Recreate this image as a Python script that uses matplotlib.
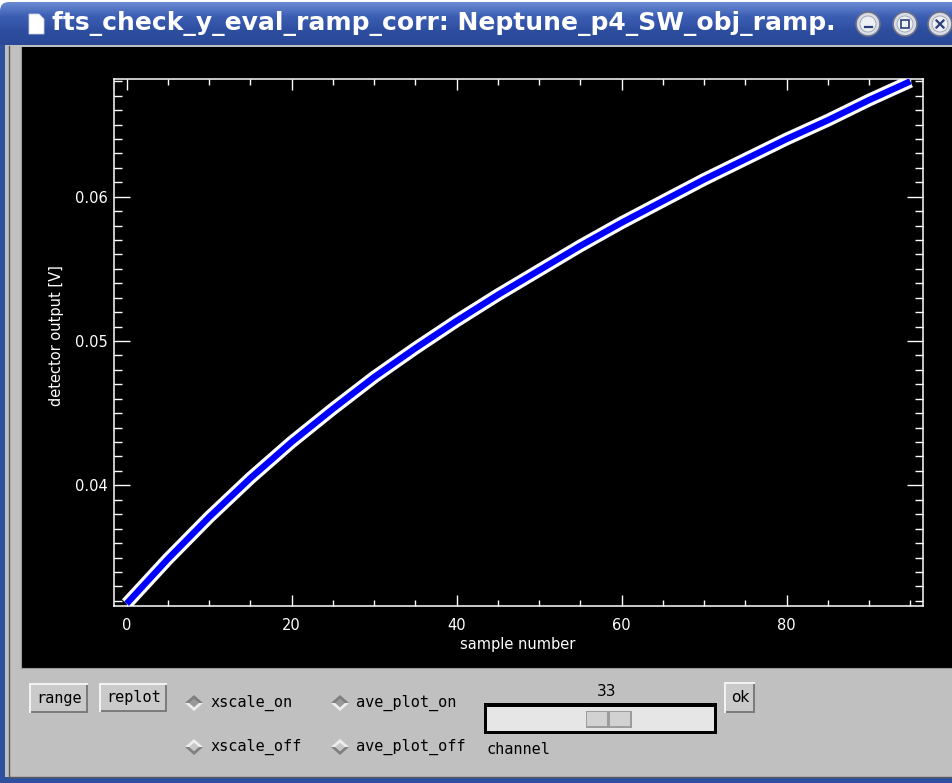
import matplotlib.pyplot as plt
import numpy as np
from matplotlib.patches import Rectangle, Polygon, Circle, FancyBboxPatch
from matplotlib.ticker import MultipleLocator, FixedLocator

W, H = 952, 783

# ramp readouts (every 5th sample) and detector output in volts
sample_number = [0, 5, 10, 15, 20, 25, 30, 35, 40, 45,
                 50, 55, 60, 65, 70, 75, 80, 85, 90, 95]
detector_output = [0.0318, 0.0349, 0.0378, 0.0405, 0.0430, 0.0453, 0.0475,
                   0.0495, 0.0514, 0.0532, 0.0549, 0.0566, 0.0582, 0.0597,
                   0.0612, 0.0626, 0.0640, 0.0653, 0.0667, 0.0680]

x_ticks = [0, 20, 40, 60, 80]
y_ticks = [0.04, 0.05, 0.06]
y_tick_labels = ['0.04', '0.05', '0.06']

window_title = 'fts_check_y_eval_ramp_corr: Neptune_p4_SW_obj_ramp.'
channel = 33

fig = plt.figure(figsize=(W / 100, H / 100), dpi=100, facecolor='white')

# full-window axes in pixel units for the widget chrome
bg = fig.add_axes([0, 0, 1, 1])
bg.set_xlim(0, W)
bg.set_ylim(H, 0)
bg.axis('off')


def box(x0, y0, x1, y1, color, z=1, **kw):
    bg.add_patch(Rectangle((x0, y0), x1 - x0, y1 - y0, facecolor=color,
                           edgecolor='none', zorder=z, **kw))


# title bar with vertical gradient
bar = FancyBboxPatch((0, 2), W + 20, 60, boxstyle='round,pad=0,rounding_size=9',
                     facecolor='none', edgecolor='none')
bg.add_patch(bar)
grad = np.linspace(0, 1, 64).reshape(-1, 1)
im = bg.imshow(grad, extent=(0, W, 46, 2), aspect='auto', zorder=1,
               cmap=plt.matplotlib.colors.LinearSegmentedColormap.from_list(
                   'tb', ['#6b8bd3', '#3b5db2', '#2d4d9f', '#2a4896']))
im.set_clip_path(bar)

# window icon
bg.add_patch(Polygon([(29, 14), (39, 14), (44, 19), (44, 34), (29, 34)],
                     closed=True, facecolor='white', edgecolor='#c8d0e0', lw=0.6, zorder=3))
bg.text(52, 24, window_title, color='white', fontsize=18, fontweight='bold',
        family='DejaVu Sans', ha='left', va='center', zorder=3)

# window buttons
for cx, sym in [(868, 'min'), (905, 'max'), (940, 'close')]:
    bg.add_patch(Circle((cx, 24), 12, facecolor='#d9dce4', edgecolor='#6a7188',
                        lw=1.2, zorder=3))
    bg.add_patch(Circle((cx, 24), 8, facecolor='#eef0f4', edgecolor='#9aa0b0',
                        lw=0.6, zorder=3))
    if sym == 'min':
        bg.plot([cx - 3.5, cx + 3.5], [27, 27], color='#2b3f7a', lw=1.6, zorder=4)
    elif sym == 'max':
        bg.add_patch(Rectangle((cx - 4, 20), 8, 8, facecolor='none',
                               edgecolor='#2b3f7a', lw=1.2, zorder=4))
    else:
        bg.plot([cx - 3.5, cx + 3.5], [20.5, 27.5], color='#2b3f7a', lw=1.6, zorder=4)
        bg.plot([cx - 3.5, cx + 3.5], [27.5, 20.5], color='#2b3f7a', lw=1.6, zorder=4)

# window body, frame and drawing area
box(0, 45, W, 783, '#2f4f9f', z=1)
box(5, 45, W, 777, '#c0c0c0', z=1)
bg.plot([9, 9], [46, 777], color='#5a5a5a', lw=1, zorder=2)
bg.plot([9, W], [777, 777], color='#5a5a5a', lw=1, zorder=2)
box(21, 47, W, 668, 'black', z=2)
bg.plot([21, 21], [47, 668], color='#9a9a9a', lw=0.8, zorder=3)
bg.plot([21, W], [668, 668], color='#9a9a9a', lw=0.8, zorder=3)

mono = 'DejaVu Sans Mono'


def button(x0, y0, x1, y1, label, family=mono):
    box(x0, y0, x1, y1, '#f2f2f2', z=3)
    box(x0 + 2, y0 + 2, x1, y1, '#7c7c7c', z=3)
    box(x0 + 2, y0 + 2, x1 - 2, y1 - 2, '#cacaca', z=3)
    bg.text((x0 + x1) / 2 + 1, (y0 + y1) / 2, label, fontsize=11, family=family,
            color='black', ha='center', va='center', zorder=4)


def diamond(cx, cy, on, label):
    hw, hh = 9, 8
    top = '#7f7f7f' if on else '#eeeeee'
    bot = '#eeeeee' if on else '#7f7f7f'
    bg.add_patch(Polygon([(cx - hw, cy), (cx, cy - hh), (cx + hw, cy)],
                         facecolor=top, edgecolor='none', zorder=3))
    bg.add_patch(Polygon([(cx - hw, cy), (cx, cy + hh), (cx + hw, cy)],
                         facecolor=bot, edgecolor='none', zorder=3))
    f = 0.55
    bg.add_patch(Polygon([(cx - hw * f, cy), (cx, cy - hh * f), (cx + hw * f, cy),
                          (cx, cy + hh * f)],
                         facecolor='#9a9a9a' if on else '#c8c8c8',
                         edgecolor='none', zorder=4))
    bg.text(cx + 16, cy, label, fontsize=11, family=mono, color='black',
            ha='left', va='center', zorder=4)


button(29, 683, 88, 713, 'range')
button(99, 683, 167, 712, 'replot')
diamond(194, 703, True, 'xscale_on')
diamond(194, 747, False, 'xscale_off')
diamond(340, 703, True, 'ave_plot_on')
diamond(340, 747, False, 'ave_plot_off')

# channel slider
bg.text(607, 692, str(channel), fontsize=11, family='DejaVu Sans', color='black',
        ha='center', va='center', zorder=4)
box(484, 703, 717, 734, 'black', z=3)
box(487, 707, 714, 731, '#e6e6e6', z=3)
box(586, 711, 632, 728, '#9c9c9c', z=4)
box(587, 712, 607, 726, '#d2d2d2', z=4)
box(610, 712, 630, 726, '#d2d2d2', z=4)
bg.text(486, 749, 'channel', fontsize=11, family=mono, color='black',
        ha='left', va='center', zorder=4)
button(724, 682, 755, 713, 'ok', family='DejaVu Sans')

# plot region
left, right, top, bottom = 114.3, 922.7, 79.3, 605.7
ax = fig.add_axes([left / W, 1 - bottom / H, (right - left) / W, (bottom - top) / H])
ax.set_facecolor('black')
ax.plot(sample_number, detector_output, color='white', lw=9.2,
        solid_capstyle='butt', zorder=2)
ax.plot(sample_number, detector_output, color='#0000ff', lw=4.6,
        solid_capstyle='butt', zorder=3)
ax.set_xlim(-1.5, 96.5)
ax.set_ylim(0.03166, 0.06814)

ax.xaxis.set_major_locator(FixedLocator(x_ticks))
ax.xaxis.set_minor_locator(MultipleLocator(5))
ax.yaxis.set_major_locator(FixedLocator(y_ticks))
ax.yaxis.set_minor_locator(MultipleLocator(0.001))
ax.set_yticklabels(y_tick_labels)

for s in ax.spines.values():
    s.set_color('white')
    s.set_linewidth(1.1)
ax.tick_params(axis='both', which='both', direction='in', colors='white',
               top=True, right=True, width=1.0, labelsize=10.5)
ax.tick_params(axis='x', which='major', length=7.9, pad=9)
ax.tick_params(axis='x', which='minor', length=4.0)
ax.tick_params(axis='y', which='major', length=11.8, pad=4.5)
ax.tick_params(axis='y', which='minor', length=6.0)

bg.text(518, 645, 'sample number', fontsize=10.5, color='white', ha='center',
        va='center', zorder=5)
bg.text(57, 336, 'detector output [V]', fontsize=10.5, color='white', ha='center',
        va='center', rotation=90, zorder=5)

fig.savefig('out.png', dpi=100, facecolor='white')
